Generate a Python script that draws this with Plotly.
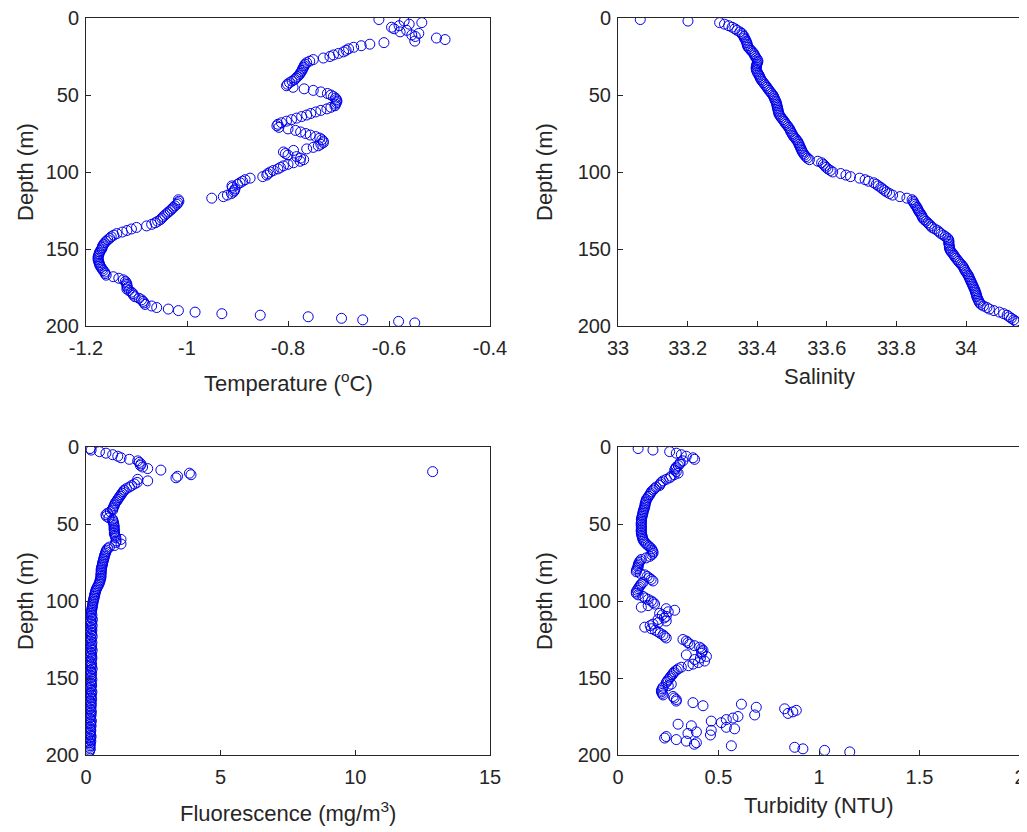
import plotly.graph_objects as go

# ---------------- data ----------------
depth_m = [
    1, 2, 3, 4, 5, 6, 7, 8, 9, 10,
    11, 12, 13, 14, 15, 16, 17, 18, 19, 20,
    21, 22, 23, 24, 25, 26, 27, 28, 29, 30,
    31, 32, 33, 34, 35, 36, 37, 38, 39, 40,
    41, 42, 43, 44, 45, 46, 47, 48, 49, 50,
    51, 52, 53, 54, 55, 56, 57, 58, 59, 60,
    61, 62, 63, 64, 65, 66, 67, 68, 69, 70,
    71, 72, 73, 74, 75, 76, 77, 78, 79, 80,
    81, 82, 83, 84, 85, 86, 87, 88, 89, 90,
    91, 92, 93, 94, 95, 96, 97, 98, 99, 100,
    101, 102, 103, 104, 105, 106, 107, 108, 109, 110,
    111, 112, 113, 114, 115, 116, 117, 118, 119, 120,
    121, 122, 123, 124, 125, 126, 127, 128, 129, 130,
    131, 132, 133, 134, 135, 136, 137, 138, 139, 140,
    141, 142, 143, 144, 145, 146, 147, 148, 149, 150,
    151, 152, 153, 154, 155, 156, 157, 158, 159, 160,
    161, 162, 163, 164, 165, 166, 167, 168, 169, 170,
    171, 172, 173, 174, 175, 176, 177, 178, 179, 180,
    181, 182, 183, 184, 185, 186, 187, 188, 189, 190,
    191, 192, 193, 194, 195, 196, 197, 198,
]

temperature_c = [
    -0.62, -0.57, -0.535, -0.56, -0.58, -0.595, -0.59, -0.565, -0.578, -0.541,
    -0.555, -0.548, -0.506, -0.489, -0.549, -0.61, -0.638, -0.655, -0.67, -0.68,
    -0.685, -0.69, -0.70, -0.71, -0.717, -0.73, -0.75, -0.757, -0.763, -0.766,
    -0.768, -0.769, -0.771, -0.772, -0.774, -0.776, -0.778, -0.781, -0.784, -0.787,
    -0.792, -0.797, -0.801, -0.803, -0.79, -0.768, -0.75, -0.735, -0.722, -0.715,
    -0.71, -0.706, -0.704, -0.703, -0.704, -0.706, -0.707, -0.715, -0.723, -0.735,
    -0.745, -0.755, -0.763, -0.773, -0.783, -0.793, -0.803, -0.813, -0.82, -0.822,
    -0.818, -0.80, -0.785, -0.775, -0.765, -0.756, -0.745, -0.737, -0.733, -0.73,
    -0.73, -0.735, -0.74, -0.75, -0.763, -0.789, -0.809, -0.805, -0.80, -0.783,
    -0.775, -0.769, -0.776, -0.789, -0.80, -0.809, -0.815, -0.82, -0.829, -0.835,
    -0.84, -0.842, -0.85, -0.875, -0.885, -0.89, -0.895, -0.90, -0.911, -0.91,
    -0.905, -0.906, -0.908, -0.912, -0.92, -0.928, -0.951, -1.017, -1.016, -1.018,
    -1.02, -1.024, -1.027, -1.03, -1.033, -1.037, -1.04, -1.044, -1.047, -1.05,
    -1.053, -1.058, -1.063, -1.07, -1.08, -1.10, -1.11, -1.119, -1.128, -1.139,
    -1.145, -1.15, -1.153, -1.157, -1.16, -1.163, -1.165, -1.167, -1.168, -1.169,
    -1.171, -1.173, -1.174, -1.175, -1.176, -1.176, -1.176, -1.175, -1.174, -1.173,
    -1.172, -1.17, -1.168, -1.166, -1.163, -1.162, -1.16, -1.146, -1.135, -1.126,
    -1.122, -1.12, -1.119, -1.119, -1.118, -1.119, -1.115, -1.11, -1.107, -1.106,
    -1.103, -1.095, -1.09, -1.087, -1.085, -1.083, -1.07, -1.06, -1.037, -1.017,
    -0.984, -0.931, -0.855, -0.76, -0.694, -0.652, -0.581, -0.549,
]

salinity = [
    33.064, 33.201, 33.292, 33.306, 33.318, 33.328, 33.336, 33.342, 33.35, 33.356,
    33.358, 33.362, 33.363, 33.366, 33.368, 33.37, 33.371, 33.372, 33.374, 33.378,
    33.382, 33.386, 33.39, 33.392, 33.394, 33.397, 33.4, 33.402, 33.401, 33.399,
    33.398, 33.397, 33.397, 33.398, 33.4, 33.402, 33.405, 33.407, 33.409, 33.411,
    33.414, 33.418, 33.421, 33.425, 33.428, 33.431, 33.434, 33.438, 33.441, 33.445,
    33.447, 33.449, 33.451, 33.453, 33.455, 33.456, 33.457, 33.458, 33.459, 33.46,
    33.461, 33.462, 33.464, 33.467, 33.47, 33.474, 33.477, 33.48, 33.483, 33.487,
    33.49, 33.493, 33.495, 33.497, 33.5, 33.502, 33.505, 33.509, 33.512, 33.516,
    33.518, 33.52, 33.522, 33.524, 33.526, 33.528, 33.53, 33.533, 33.536, 33.54,
    33.544, 33.55, 33.574, 33.585, 33.59, 33.594, 33.598, 33.603, 33.61, 33.617,
    33.64, 33.655, 33.668, 33.694, 33.71, 33.72, 33.735, 33.742, 33.748, 33.755,
    33.76, 33.766, 33.772, 33.78, 33.789, 33.81, 33.83, 33.845, 33.848, 33.85,
    33.853, 33.856, 33.859, 33.861, 33.863, 33.866, 33.869, 33.872, 33.874, 33.876,
    33.88, 33.885, 33.89, 33.894, 33.899, 33.902, 33.91, 33.918, 33.923, 33.928,
    33.935, 33.941, 33.947, 33.95, 33.951, 33.95, 33.951, 33.952, 33.952, 33.953,
    33.955, 33.958, 33.962, 33.965, 33.968, 33.971, 33.975, 33.978, 33.982, 33.986,
    33.99, 33.993, 33.995, 33.997, 34.0, 34.003, 34.006, 34.008, 34.01, 34.012,
    34.014, 34.016, 34.018, 34.02, 34.022, 34.024, 34.026, 34.027, 34.029, 34.03,
    34.031, 34.033, 34.035, 34.037, 34.039, 34.043, 34.05, 34.06, 34.067, 34.08,
    34.096, 34.108, 34.118, 34.124, 34.13, 34.137, 34.143, 34.148,
]

fluorescence = [
    0.15, 0.19, 0.5, 0.74, 0.99, 1.18, 1.3, 1.61, 1.92, 1.98,
    2.04, 2.02, 2.1, 2.29, 2.78, 12.87, 3.84, 3.9, 3.4, 3.34,
    1.92, 2.29, 1.9, 1.8, 1.7, 1.61, 1.5, 1.42, 1.38, 1.34,
    1.3, 1.26, 1.22, 1.18, 1.15, 1.1, 1.07, 1.05, 1.02, 1.0,
    0.99, 0.9, 0.8, 0.74, 0.76, 0.85, 0.99, 1.0, 1.02, 1.03,
    1.04, 1.05, 1.04, 1.05, 1.06, 1.05, 1.07, 1.09, 1.11, 1.3,
    1.12, 1.1, 1.3, 1.05, 0.87, 0.8, 0.76, 0.74, 0.72, 0.7,
    0.68, 0.67, 0.65, 0.64, 0.62, 0.61, 0.6, 0.58, 0.57, 0.56,
    0.57, 0.56, 0.55, 0.56, 0.55, 0.53, 0.52, 0.5, 0.48, 0.45,
    0.42, 0.39, 0.37, 0.35, 0.34, 0.32, 0.31, 0.3, 0.28, 0.27,
    0.26, 0.25, 0.24, 0.23, 0.22, 0.21, 0.2, 0.19, 0.22, 0.18,
    0.2, 0.24, 0.17, 0.21, 0.19, 0.23, 0.18, 0.2, 0.22, 0.17,
    0.21, 0.19, 0.23, 0.18, 0.2, 0.16, 0.22, 0.19, 0.21, 0.18,
    0.2, 0.23, 0.17, 0.19, 0.21, 0.18, 0.22, 0.2, 0.16, 0.19,
    0.21, 0.18, 0.2, 0.23, 0.17, 0.19, 0.21, 0.16, 0.2, 0.18,
    0.22, 0.19, 0.17, 0.2, 0.21, 0.18, 0.16, 0.19, 0.22, 0.18,
    0.2, 0.17, 0.19, 0.21, 0.16, 0.18, 0.2, 0.17, 0.19, 0.15,
    0.18, 0.2, 0.16, 0.19, 0.17, 0.15, 0.18, 0.2, 0.16, 0.17,
    0.19, 0.15, 0.17, 0.18, 0.16, 0.14, 0.17, 0.19, 0.15, 0.16,
    0.18, 0.14, 0.16, 0.15, 0.13, 0.16, 0.14, 0.12,
]

turbidity = [
    0.1, 0.174, 0.257, 0.29, 0.315, 0.34, 0.373, 0.381, 0.323, 0.31,
    0.307, 0.3, 0.29, 0.285, 0.282, 0.29, 0.299, 0.28, 0.265, 0.257,
    0.24, 0.224, 0.215, 0.21, 0.207, 0.19, 0.182, 0.175, 0.166, 0.162,
    0.158, 0.152, 0.148, 0.141, 0.14, 0.137, 0.135, 0.134, 0.133, 0.13,
    0.127, 0.125, 0.124, 0.122, 0.12, 0.118, 0.116, 0.117, 0.116, 0.115,
    0.116, 0.116, 0.117, 0.115, 0.116, 0.116, 0.118, 0.12, 0.122, 0.124,
    0.128, 0.134, 0.141, 0.15, 0.158, 0.166, 0.17, 0.174, 0.174, 0.168,
    0.158, 0.14, 0.116, 0.11, 0.105, 0.102, 0.1, 0.1, 0.095, 0.092,
    0.091, 0.11, 0.133, 0.145, 0.155, 0.165, 0.174, 0.124, 0.115, 0.11,
    0.105, 0.1, 0.095, 0.091, 0.091, 0.1, 0.124, 0.135, 0.15, 0.166,
    0.175, 0.182, 0.15, 0.116, 0.24, 0.282, 0.25, 0.207, 0.22, 0.24,
    0.23, 0.199, 0.24, 0.2, 0.174, 0.16, 0.133, 0.166, 0.185, 0.199,
    0.21, 0.224, 0.232, 0.24, 0.323, 0.34, 0.348, 0.357, 0.38, 0.406,
    0.415, 0.423, 0.418, 0.415, 0.34, 0.44, 0.41, 0.381, 0.431, 0.4,
    0.373, 0.35, 0.315, 0.3, 0.29, 0.28, 0.274, 0.27, 0.262, 0.257,
    0.25, 0.245, 0.24, 0.265, 0.25, 0.224, 0.22, 0.216, 0.216, 0.22,
    0.224, 0.274, 0.28, 0.29, 0.29, 0.373, 0.614, 0.423, 0.688, 0.829,
    0.887, 0.87, 0.846, 0.68, 0.597, 0.572, 0.539, 0.464, 0.514, 0.299,
    0.365, 0.539, 0.58, 0.464, 0.39, 0.348, 0.46, 0.24, 0.232, 0.29,
    0.34, 0.39, 0.38, 0.564, 0.879, 0.92, 1.028, 1.153,
]

depth_ticks = [0, 50, 100, 150, 200]
temp_ticks = [-1.2, -1.0, -0.8, -0.6, -0.4]
temp_ticktext = ["-1.2", "-1", "-0.8", "-0.6", "-0.4"]
sal_ticks = [33.0, 33.2, 33.4, 33.6, 33.8, 34.0]
sal_ticktext = ["33", "33.2", "33.4", "33.6", "33.8", "34"]
fluo_ticks = [0, 5, 10, 15]
fluo_ticktext = ["0", "5", "10", "15"]
turb_ticks = [0, 0.5, 1.0, 1.5, 2.0]
turb_ticktext = ["0", "0.5", "1", "1.5", "2"]

x_titles = ["Temperature (<sup>o</sup>C)", "Salinity",
            "Fluorescence (mg/m<sup>3</sup>)", "Turbidity (NTU)"]
y_title = "Depth (m)"

# ---------------- styling ----------------
# the page body adds an 8 px margin, so the figure is drawn 8 px smaller
# and every target position (in window pixels) is shifted by OFF
OFF = 8
W, H = 1027 - OFF, 832 - OFF
FONT = "Liberation Sans, Arial, Helvetica, sans-serif"
INK = "#262626"
BLUE = "rgb(0,0,235)"

# plot boxes in window pixels (left, right, top, bottom)
boxes = [
    (86, 490, 18, 326),
    (618, 1020, 18, 326),
    (86, 490, 447, 755),
    (618, 1020, 447, 755),
]
# y-title centre x, x-title centre-line offset below the axis (window px)
ytitle_x = [25, 544, 25, 544]
xtitle_dy = [56, 50, 57, 50]


def fx(px):
    return (px - OFF) / W


def fy(py):
    return 1 - (py - OFF) / H


fig = go.Figure()
series = [temperature_c, salinity, fluorescence, turbidity]
for i, vals in enumerate(series):
    ax = "" if i == 0 else str(i + 1)
    fig.add_trace(go.Scatter(
        x=vals, y=depth_m, mode="markers",
        xaxis="x" + ax, yaxis="y" + ax,
        marker=dict(symbol="circle-open", size=10, color=BLUE,
                    line=dict(width=1, color=BLUE)),
        showlegend=False, hoverinfo="x+y",
    ))

xranges = [[-1.2, -0.4], [33.0, 34.155], [0, 15], [0, 2]]
xticks = [(temp_ticks, temp_ticktext), (sal_ticks, sal_ticktext),
          (fluo_ticks, fluo_ticktext), (turb_ticks, turb_ticktext)]

common = dict(showline=True, linecolor=INK, linewidth=1, mirror=True,
              ticks="inside", ticklen=5, tickwidth=1, tickcolor=INK,
              showgrid=False, zeroline=False, automargin=False,
              ticklabeloverflow="allow",
              tickfont=dict(family=FONT, size=20, color=INK))

layout = dict(width=W, height=H,
              margin=dict(l=0, r=0, t=0, b=0, pad=0, autoexpand=False),
              paper_bgcolor="white", plot_bgcolor="white",
              font=dict(family=FONT, color=INK))
annotations = []
for i, (l, r, t, b) in enumerate(boxes):
    ax = "" if i == 0 else str(i + 1)
    layout["xaxis" + ax] = dict(
        common, domain=[fx(l), fx(r)], range=xranges[i],
        tickvals=xticks[i][0], ticktext=xticks[i][1],
        anchor="y" + ax, ticklabelstandoff=4)
    layout["yaxis" + ax] = dict(
        common, domain=[fy(b), fy(t)], range=[200, 0],
        tickvals=depth_ticks, ticktext=[str(v) for v in depth_ticks],
        anchor="x" + ax, ticklabelstandoff=2)
    annotations.append(dict(
        text=y_title, textangle=-90, xref="paper", yref="paper",
        x=fx(ytitle_x[i]), y=fy((t + b) / 2),
        xanchor="center", yanchor="middle", showarrow=False,
        font=dict(family=FONT, size=22, color=INK)))
    annotations.append(dict(
        text=x_titles[i], xref="paper", yref="paper",
        x=fx((l + r) / 2), y=fy(b + xtitle_dy[i]),
        xanchor="center", yanchor="middle", showarrow=False,
        font=dict(family=FONT, size=22, color=INK)))
layout["annotations"] = annotations
fig.update_layout(**layout)

fig.write_html("out.html")
